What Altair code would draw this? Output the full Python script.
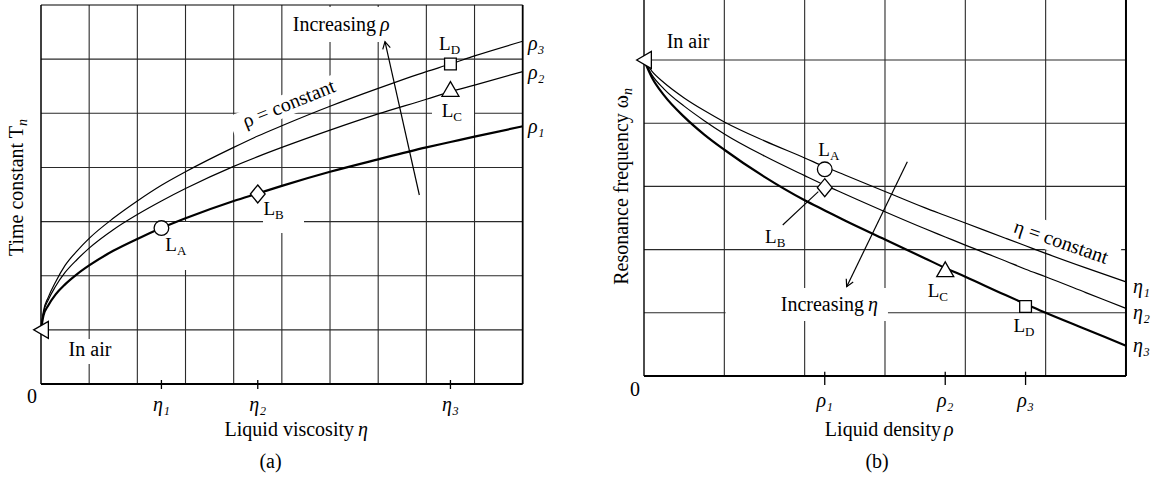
import altair as alt
import pandas as pd

FONT = "Liberation Serif"
INK = "#000000"
GRID_COLOR = "#2a2a2a"

# ====================== data (grid units) ======================
# (a) time constant T_n versus liquid viscosity eta, one curve per liquid density
a_eta = [0, 0.05, 0.15, 0.3, 0.5, 0.75, 1, 1.5, 2, 2.5, 3, 4, 4.5, 5, 6, 7, 8, 8.5, 9, 10]
a_T_rho1 = [1.00, 1.26, 1.45, 1.65, 1.84, 2.03, 2.19, 2.46, 2.68, 2.88, 3.06, 3.38, 3.52, 3.66, 3.92, 4.15, 4.37, 4.47, 4.57, 4.76]
a_T_rho2 = [1.00, 1.31, 1.55, 1.80, 2.06, 2.30, 2.51, 2.85, 3.13, 3.38, 3.61, 4.02, 4.20, 4.37, 4.69, 4.99, 5.26, 5.40, 5.52, 5.77]
a_T_rho3 = [1.00, 1.34, 1.60, 1.88, 2.19, 2.46, 2.69, 3.06, 3.38, 3.67, 3.92, 4.37, 4.58, 4.77, 5.13, 5.46, 5.77, 5.91, 6.06, 6.33]
a_curve_labels = ["ρ₁", "ρ₂", "ρ₃"]
a_eta_ticks = [2.5, 4.5, 8.5]
a_eta_tick_labels = ["η₁", "η₂", "η₃"]
a_point_names = ["air", "A", "B", "C", "D"]
a_point_eta = [0.0, 2.5, 4.5, 8.5, 8.5]
a_point_T = [1.00, 2.88, 3.51, 5.45, 5.91]

# (b) resonance frequency omega_n versus liquid density rho, one curve per viscosity
b_rho = [0, 0.1, 0.25, 0.5, 0.75, 1, 1.5, 2, 2.25, 2.5, 3, 3.5, 3.75, 4, 4.5, 4.75, 5, 5.5, 6]
b_w_eta1 = [5.00, 4.82, 4.64, 4.40, 4.20, 4.02, 3.72, 3.45, 3.31, 3.18, 2.92, 2.66, 2.54, 2.42, 2.18, 2.06, 1.94, 1.71, 1.49]
b_w_eta2 = [5.00, 4.76, 4.54, 4.27, 4.04, 3.83, 3.48, 3.17, 3.02, 2.88, 2.60, 2.33, 2.20, 2.07, 1.82, 1.69, 1.57, 1.32, 1.07]
b_w_eta3 = [5.00, 4.72, 4.44, 4.10, 3.82, 3.58, 3.15, 2.78, 2.62, 2.46, 2.16, 1.86, 1.71, 1.57, 1.28, 1.14, 1.00, 0.74, 0.48]
b_curve_labels = ["η₁", "η₂", "η₃"]
b_rho_ticks = [2.25, 3.75, 4.75]
b_rho_tick_labels = ["ρ₁", "ρ₂", "ρ₃"]
b_point_names = ["air", "A", "B", "C", "D"]
b_point_rho = [0.0, 2.25, 2.25, 3.75, 4.75]
b_point_w = [5.00, 3.27, 2.98, 1.69, 1.10]

# ====================== layout ======================
W, H = 1162, 486
# origin pixel and pixels per grid unit for each panel on the shared canvas
A_GEOM = (41.0, 48.17, 384.0, 54.14)
B_GEOM = (644.0, 80.33, 376.0, 63.2)

DIAMOND = "M0,-1L0.82,0L0,1L-0.82,0Z"
CHEVRON = "M-0.55,1L0,0L0.55,1"
MARKER_STYLE = {
    "air": ("triangle-left", 289),
    "A": ("circle", 215),
    "B": (DIAMOND, 324),
    "C": ("triangle-up", 289),
    "D": ("square", 138),
}


def encoders(geom):
    x0, xu, y0, yu = geom
    sx = alt.Scale(domain=[-x0 / xu, (W - x0) / xu], nice=False, zero=False)
    sy = alt.Scale(domain=[(y0 - H) / yu, y0 / yu], nice=False, zero=False)

    def X(f):
        return alt.X(f, type="quantitative", scale=sx, axis=None)

    def Y(f):
        return alt.Y(f, type="quantitative", scale=sy, axis=None)

    return X, Y


def segs(X, Y, rows, **mk):
    df = pd.DataFrame(rows, columns=["x0", "y0", "x1", "y1"])
    return alt.Chart(df).mark_rule(**mk).encode(
        x=X("x0"), y=Y("y0"), x2=alt.X2("x1"), y2=alt.Y2("y1"))


def boxes(X, Y, rows):
    df = pd.DataFrame(rows, columns=["x0", "x1", "y0", "y1"])
    return alt.Chart(df).mark_rect(fill="white", strokeWidth=0).encode(
        x=X("x0"), x2=alt.X2("x1"), y=Y("y0"), y2=alt.Y2("y1"))


def texts(X, Y, rows, **mk):
    df = pd.DataFrame(rows, columns=["x", "y", "t"])
    props = dict(font=FONT, fontSize=20, color=INK, align="center", baseline="middle")
    props.update(mk)
    return alt.Chart(df).mark_text(**props).encode(x=X("x"), y=Y("y"), text="t:N")


def curves(X, Y, xs, series, names, widths):
    layers = []
    for ys, name, w in zip(series, names, widths):
        df = pd.DataFrame({"x": xs, "y": ys, "s": name})
        layers.append(alt.Chart(df).mark_line(color=INK, strokeWidth=w, interpolate="monotone")
                      .encode(x=X("x"), y=Y("y"), detail="s:N"))
    return layers


def markers(X, Y, names, xs, ys):
    layers = []
    for n, x, y in zip(names, xs, ys):
        shape, size = MARKER_STYLE[n]
        df = pd.DataFrame({"x": [x], "y": [y]})
        layers.append(alt.Chart(df).mark_point(shape=shape, size=size, filled=True, fill="white",
                                               stroke=INK, strokeWidth=1.3, opacity=1)
                      .encode(x=X("x"), y=Y("y")))
    return layers


def arrow_head(X, Y, x, y, angle):
    df = pd.DataFrame({"x": [x], "y": [y]})
    return alt.Chart(df).mark_point(shape=CHEVRON, size=196, angle=angle, filled=False,
                                    stroke=INK, strokeWidth=1.2, opacity=1).encode(x=X("x"), y=Y("y"))


def l_labels(X, Y, joins, letters):
    main = texts(X, Y, [(x, y, "L") for (x, y) in joins], align="right", baseline="alphabetic", fontSize=19)
    sub = texts(X, Y, [(x, y, s) for (x, y), s in zip(joins, letters)], align="left",
                baseline="alphabetic", fontSize=13, dy=4)
    return [main, sub]


# ---------------------------- panel (a) ----------------------------
X, Y = encoders(A_GEOM)
a_layers = [
    segs(X, Y, [(g, 0, g, 7) for g in range(1, 10)] + [(0, g, 10, g) for g in range(1, 7)],
         stroke=GRID_COLOR, strokeWidth=1.1),
    boxes(X, Y, [(0.54, 1.495, 0.369, 0.831), (2.533, 3.093, 2.106, 2.992),
                 (4.609, 5.460, 2.789, 3.639), (8.117, 8.989, 4.765, 5.246),
                 (5.169, 7.536, 6.317, 6.963)]),
    segs(X, Y, [(3.955, 4.743, 6.342, 5.600)], stroke="white", strokeWidth=22, strokeCap="butt"),
    segs(X, Y, [(0, 0, 10, 0)], stroke=INK, strokeWidth=2.2),
    segs(X, Y, [(0, 0, 0, 7)], stroke=INK, strokeWidth=1.5),
    segs(X, Y, [(0, 7, 10, 7)], stroke=INK, strokeWidth=1.2),
    segs(X, Y, [(10, 0, 10, 7)], stroke=INK, strokeWidth=1.8),
    segs(X, Y, [(t, -0.092, t, 0.074) for t in a_eta_ticks], stroke=INK, strokeWidth=1.3),
]
a_layers += curves(X, Y, a_eta, [a_T_rho2, a_T_rho3], a_curve_labels[1:], [1.2, 1.2])
a_layers += curves(X, Y, a_eta, [a_T_rho1], a_curve_labels[:1], [2.2])
a_layers += markers(X, Y, a_point_names, a_point_eta, a_point_T)
a_layers += [
    segs(X, Y, [(7.854, 3.491, 7.141, 6.323)], stroke=INK, strokeWidth=1.2),
    arrow_head(X, Y, 7.141, 6.323, 347.4),
    texts(X, Y, [(-0.187, -0.240, "0"), (1.017, 0.628, "In air")]),
    texts(X, Y, [(5.148, 5.172, "ρ = constant")], angle=338),
    texts(X, Y, [(4.764, -1.552, "(a)")], baseline="alphabetic"),
    texts(X, Y, [(6.498, -0.960, "Liquid viscosity"), (6.955, 6.520, "Increasing")],
          align="right", baseline="alphabetic"),
    texts(X, Y, [(6.581, -0.960, "η"), (7.038, 6.520, "ρ")], align="left", baseline="alphabetic",
          fontStyle="italic"),
    texts(X, Y, [(t, -0.388, s) for t, s in zip(a_eta_ticks, a_eta_tick_labels)], fontStyle="italic"),
    texts(X, Y, [(10.28, y, s) for y, s in zip([4.74, 5.75, 6.28], a_curve_labels)], fontStyle="italic"),
    texts(X, Y, [(-0.498, 4.765, "Time constant T")], angle=270, align="right"),
    texts(X, Y, [(-0.498, 4.765, "n")], angle=270, align="left", fontSize=14, dy=6, fontStyle="italic"),
]
a_layers += l_labels(X, Y, [(2.823, 2.457), (4.858, 3.125), (8.559, 4.926), (8.505, 6.169)],
                     ["A", "B", "C", "D"])
panel_a = alt.layer(*a_layers)

# ---------------------------- panel (b) ----------------------------
X, Y = encoders(B_GEOM)
TOP = 5.95
b_layers = [
    segs(X, Y, [(g, 0, g, TOP) for g in range(1, 6)] + [(0, g, 6, g) for g in range(1, 6)],
         stroke=GRID_COLOR, strokeWidth=1.1),
    boxes(X, Y, [(1.015, 3.037, 0.870, 1.392)]),
    segs(X, Y, [(4.485, 2.460, 5.897, 1.843)], stroke="white", strokeWidth=28, strokeCap="butt"),
    segs(X, Y, [(0, 0, 6, 0)], stroke=INK, strokeWidth=2.2),
    segs(X, Y, [(0, 0, 0, TOP)], stroke=INK, strokeWidth=1.4),
    segs(X, Y, [(6, 0, 6, TOP)], stroke=INK, strokeWidth=2.0),
    segs(X, Y, [(t, -0.142, t, 0.068) for t in b_rho_ticks], stroke=INK, strokeWidth=1.3),
]
b_layers += curves(X, Y, b_rho, [b_w_eta1, b_w_eta2], b_curve_labels[:2], [1.2, 1.2])
b_layers += curves(X, Y, b_rho, [b_w_eta3], b_curve_labels[2:], [2.2])
b_layers += markers(X, Y, b_point_names, b_point_rho, b_point_w)
b_layers += [
    segs(X, Y, [(1.727, 2.389, 2.170, 2.916)], stroke=INK, strokeWidth=1.1),
    segs(X, Y, [(3.278, 3.391, 2.523, 1.413)], stroke=INK, strokeWidth=1.2),
    arrow_head(X, Y, 2.523, 1.413, 205.9),
    texts(X, Y, [(-0.112, -0.222, "0"), (0.548, 5.285, "In air")]),
    texts(X, Y, [(5.191, 2.116, "η = constant")], angle=19),
    texts(X, Y, [(2.901, -1.456, "(b)")], baseline="alphabetic"),
    texts(X, Y, [(3.697, -0.949, "Liquid density"), (2.739, 1.028, "Increasing")],
          align="right", baseline="alphabetic"),
    texts(X, Y, [(3.735, -0.949, "ρ"), (2.788, 1.028, "η")], align="left", baseline="alphabetic",
          fontStyle="italic"),
    texts(X, Y, [(t, -0.403, s) for t, s in zip(b_rho_ticks, b_rho_tick_labels)], fontStyle="italic"),
    texts(X, Y, [(6.193, y, s) for y, s in zip([1.416, 0.997, 0.467], b_curve_labels)], fontStyle="italic"),
    texts(X, Y, [(-0.280, 4.446, "Resonance frequency ω")], angle=270, align="right"),
    texts(X, Y, [(-0.280, 4.446, "n")], angle=270, align="left", fontSize=14, dy=6, fontStyle="italic"),
]
b_layers += l_labels(X, Y, [(2.315, 3.481), (1.652, 2.109), (3.676, 1.255), (4.743, 0.701)],
                     ["A", "B", "C", "D"])
panel_b = alt.layer(*b_layers)

chart = (
    alt.layer(panel_a, panel_b)
    .resolve_scale(x="independent", y="independent")
    .properties(width=W, height=H, padding=0, background="white",
                autosize=alt.AutoSizeParams(type="none"))
    .configure_view(stroke=None)
)

chart.save("out.html", embed_options={"renderer": "svg", "actions": False})
